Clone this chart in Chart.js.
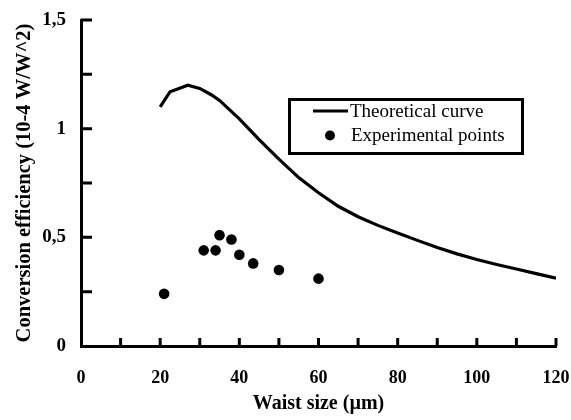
<!DOCTYPE html>
<html>
<head>
<meta charset="utf-8">
<script src="https://cdn.jsdelivr.net/npm/chart.js@4.4.1/dist/chart.umd.min.js"></script>
<style>
  body { margin: 0; background: #fff; }
</style>
</head>
<body>
<canvas id="myChart" width="571" height="420"></canvas>
<script>
// theoretical curve (waist size in µm, efficiency in 10-4 W/W^2)
const theoryX = [20, 22.5, 27, 30, 33, 35, 40, 45, 50, 55, 60, 65, 70, 75, 80, 85, 90, 95, 100, 105, 110, 115, 120];
const theoryY = [1.10, 1.17, 1.20, 1.185, 1.155, 1.13, 1.045, 0.95, 0.86, 0.775, 0.705, 0.643, 0.595, 0.555, 0.52, 0.486, 0.453, 0.424, 0.398, 0.375, 0.354, 0.333, 0.312];

// experimental points
const expX = [21, 31, 34, 35, 38, 40, 43.5, 50, 60];
const expY = [0.24, 0.44, 0.44, 0.51, 0.49, 0.42, 0.38, 0.35, 0.31];

// tick labels
const xLabelValues = [0, 20, 40, 60, 80, 100, 120];
const yLabelValues = [0, 0.5, 1, 1.5];
const yLabels = ['0', '0,5', '1', '1,5'];

const seriesNames = ['Theoretical curve', 'Experimental points'];

const serif = "'Liberation Serif', 'Times New Roman', serif";

// petites graduations vers l'interieur
const innerTicks = {
    id: 'innerTicks',
    afterDraw(chart) {
        const ctx = chart.ctx;
        const area = chart.chartArea;
        const xs = chart.scales.x;
        const ys = chart.scales.y;
        ctx.save();
        ctx.strokeStyle = '#000';
        ctx.lineWidth = 3;
        ctx.beginPath();
        xs.ticks.forEach(t => {
            if (t.value === 0) return;
            const px = xs.getPixelForValue(t.value);
            ctx.moveTo(px, area.bottom);
            ctx.lineTo(px, area.bottom - 8);
        });
        ys.ticks.forEach(t => {
            if (t.value === 0) return;
            const py = ys.getPixelForValue(t.value);
            ctx.moveTo(area.left, py);
            ctx.lineTo(area.left + 11, py);
        });
        ctx.stroke();
        ctx.restore();
    }
};

// legende encadree
const boxLegend = {
    id: 'boxLegend',
    afterDraw(chart) {
        const ctx = chart.ctx;
        const ds = chart.data.datasets;
        ctx.save();
        ctx.strokeStyle = '#000';
        ctx.lineWidth = 3;
        ctx.strokeRect(289.5, 99.5, 233, 54);

        ctx.beginPath();
        ctx.moveTo(313, 111);
        ctx.lineTo(348, 111);
        ctx.stroke();

        ctx.fillStyle = '#000';
        ctx.beginPath();
        ctx.arc(330, 135.5, 5, 0, Math.PI * 2);
        ctx.fill();

        ctx.font = "19px " + serif;
        ctx.textBaseline = 'middle';
        ctx.textAlign = 'left';
        ctx.fillText(ds[0].label, 350, 112);
        ctx.fillText(ds[1].label, 351, 136);
        ctx.restore();
    }
};

const chart = document.getElementById('myChart');
new Chart(chart, {
    type: 'scatter',
    data: {
        datasets: [{
            label: seriesNames[0],
            data: theoryX.map((x, i) => ({ x: x, y: theoryY[i] })),
            showLine: true,
            borderColor: '#000',
            borderWidth: 3.2,
            pointRadius: 0,
            tension: 0,
            fill: false
        }, {
            label: seriesNames[1],
            data: expX.map((x, i) => ({ x: x, y: expY[i] })),
            showLine: false,
            backgroundColor: '#000',
            borderColor: '#000',
            pointRadius: 5.3,
            pointBorderWidth: 0
        }]
    },
    options: {
        responsive: false,
        animation: false,
        layout: { padding: { left: 0, right: 15, top: 20, bottom: 0 } },
        plugins: {
            legend: { display: false },
            tooltip: { enabled: false }
        },
        scales: {
            x: {
                type: 'linear',
                min: 0,
                max: 120,
                grid: { display: false, drawTicks: false, tickLength: 0 },
                border: { display: true, color: '#000', width: 3 },
                ticks: {
                    stepSize: 10,
                    autoSkip: false,
                    maxRotation: 0,
                    color: '#000',
                    padding: 22,
                    font: { family: serif, size: 18, weight: 'bold' },
                    callback: v => xLabelValues.includes(v) ? String(v) : ''
                },
                title: {
                    display: true,
                    text: 'Waist size (µm)',
                    color: '#000',
                    padding: { top: 0, bottom: 4 },
                    font: { family: serif, size: 20, weight: 'bold' }
                },
                afterFit: s => {
                    s.height = 74;
                    s.paddingLeft = 0;
                    s.paddingRight = 0;
                }
            },
            y: {
                type: 'linear',
                min: 0,
                max: 1.5,
                grid: { display: false, drawTicks: false, tickLength: 0 },
                border: { display: true, color: '#000', width: 3 },
                ticks: {
                    stepSize: 0.25,
                    autoSkip: false,
                    color: '#000',
                    padding: 15,
                    crossAlign: 'near',
                    font: { family: serif, size: 19, weight: 'bold' },
                    callback: v => {
                        const i = yLabelValues.indexOf(v);
                        return i >= 0 ? yLabels[i] : '';
                    }
                },
                title: {
                    display: true,
                    text: 'Conversion efficiency (10-4 W/W^2)',
                    color: '#000',
                    padding: { top: 12, bottom: 0 },
                    font: { family: serif, size: 20.5, weight: 'bold' }
                },
                afterFit: s => {
                    s.width = 81;
                    s.paddingTop = 0;
                    s.paddingBottom = 0;
                }
            }
        }
    },
    plugins: [innerTicks, boxLegend]
});
</script>
</body>
</html>
